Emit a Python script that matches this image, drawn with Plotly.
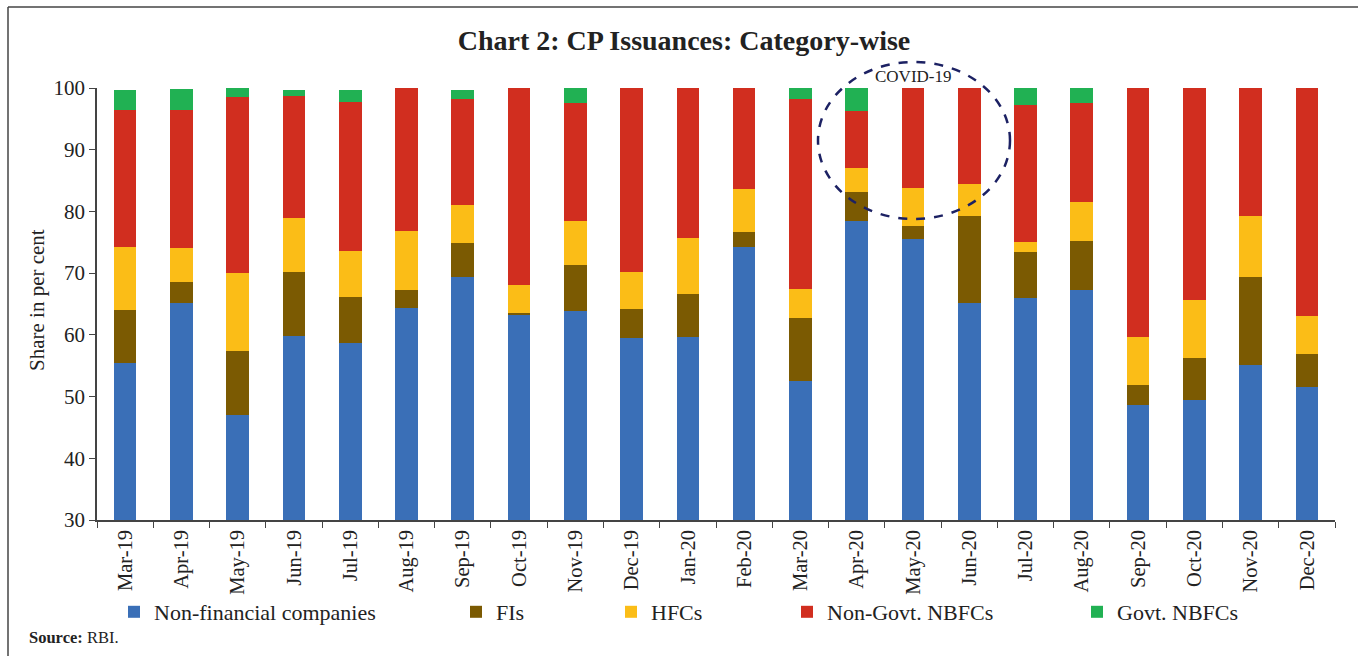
import plotly.graph_objects as go

months = ["Mar-19", "Apr-19", "May-19", "Jun-19", "Jul-19", "Aug-19", "Sep-19", "Oct-19",
          "Nov-19", "Dec-19", "Jan-20", "Feb-20", "Mar-20", "Apr-20", "May-20", "Jun-20",
          "Jul-20", "Aug-20", "Sep-20", "Oct-20", "Nov-20", "Dec-20"]

non_financial = [55.5, 65.2, 47.0, 59.8, 58.7, 64.4, 69.3, 63.2, 63.9, 59.5, 59.7, 74.2,
                 52.5, 78.5, 75.5, 65.1, 66.0, 67.2, 48.7, 49.4, 55.1, 51.5]
fis = [8.6, 3.3, 10.4, 10.4, 7.5, 2.9, 5.6, 0.4, 7.5, 4.7, 7.0, 2.5,
       10.2, 4.7, 2.2, 14.2, 7.4, 8.0, 3.1, 6.8, 14.3, 5.4]
hfcs = [10.2, 5.5, 12.6, 8.7, 7.4, 9.5, 6.2, 4.5, 7.1, 6.0, 9.0, 7.0,
        4.7, 3.8, 6.1, 5.2, 1.6, 6.4, 7.9, 9.4, 9.9, 6.2]
non_govt_nbfcs = [22.2, 22.5, 28.5, 19.8, 24.1, 23.2, 17.1, 31.9, 19.1, 29.8, 24.3, 16.3,
                  30.8, 9.3, 16.2, 15.5, 22.2, 15.9, 40.3, 34.4, 20.7, 36.9]
govt_nbfcs = [3.2, 3.4, 1.5, 0.9, 2.0, 0.0, 1.5, 0.0, 2.4, 0.0, 0.0, 0.0,
              1.8, 3.7, 0.0, 0.0, 2.8, 2.5, 0.0, 0.0, 0.0, 0.0]

series_names = ["Non-financial companies", "FIs", "HFCs", "Non-Govt. NBFCs", "Govt. NBFCs"]
series_values = [non_financial, fis, hfcs, non_govt_nbfcs, govt_nbfcs]
colors = ["#3A6FB7", "#7B5A02", "#FBBD17", "#D12E1F", "#21B153"]

FONT = "Liberation Serif"
W, H = 1358, 656
L, R, T, B = 97, 23, 88, 136
PW = W - L - R
PH = H - T - B


def px_x(p):
    return (p - L) / PW


def px_y(p):
    return (H - B - p) / PH


legend_ids = ["legend", "legend2", "legend3", "legend4", "legend5"]
text_starts = [155, 497, 652, 828, 1118]

fig = go.Figure()
for name, vals, col, lid in zip(series_names, series_values, colors, legend_ids):
    fig.add_trace(go.Bar(
        x=months, y=vals, name=name, marker=dict(color=col, line=dict(width=0)),
        legend=lid,
    ))

legend_layouts = {}
for lid, ts in zip(legend_ids, text_starts):
    legend_layouts[lid] = dict(
        x=px_x(ts - 41), y=px_y(612), xanchor="left", yanchor="middle",
        orientation="h", bgcolor="rgba(0,0,0,0)", borderwidth=0,
        font=dict(family=FONT, size=22, color="#222222"),
    )

fig.update_layout(
    width=W, height=H,
    margin=dict(l=L, r=R, t=T, b=B),
    paper_bgcolor="white", plot_bgcolor="white",
    barmode="stack", bargap=0.597,
    showlegend=True,
    title=dict(text="<b>Chart 2: CP Issuances: Category-wise</b>",
               x=684 / W, xref="container", xanchor="center",
               y=1 - 40 / H, yref="container", yanchor="middle",
               font=dict(family=FONT, size=28, color="#222222")),
    xaxis=dict(type="category", tickangle=-90, ticks="outside", ticklen=6,
               tickson="boundaries", tickcolor="#444444", tickwidth=1.3,
               showline=True, linecolor="#444444", linewidth=1.5,
               showgrid=False, tickfont=dict(family=FONT, size=20.5, color="#222222")),
    yaxis=dict(range=[30, 100], tickvals=[30, 40, 50, 60, 70, 80, 90, 100],
               ticks="outside", ticklen=6, tickcolor="#444444", tickwidth=1.3,
               showline=True, linecolor="#444444", linewidth=1.5,
               showgrid=False, zeroline=False,
               tickfont=dict(family=FONT, size=21, color="#222222")),
    **legend_layouts,
)

# Y-axis title
fig.add_annotation(text="Share in per cent", xref="paper", yref="paper",
                   x=px_x(37), y=px_y(300), textangle=-90, showarrow=False,
                   xanchor="center", yanchor="middle",
                   font=dict(family=FONT, size=21, color="#222222"))

# COVID-19 ellipse and label
fig.add_shape(type="circle", xref="paper", yref="paper",
              x0=px_x(818), x1=px_x(1010), y0=px_y(219), y1=px_y(62),
              line=dict(color="#1C2163", width=2.5, dash="dash"))
fig.add_annotation(text="COVID-19", xref="paper", yref="paper",
                   x=px_x(913), y=px_y(76), showarrow=False,
                   xanchor="center", yanchor="middle",
                   font=dict(family=FONT, size=17, color="#222222"))

# Source note
fig.add_annotation(text="<b>Source:</b> RBI.", xref="paper", yref="paper",
                   x=px_x(27), y=px_y(637), showarrow=False,
                   xanchor="left", yanchor="middle",
                   font=dict(family=FONT, size=16.5, color="#222222"))

# Frame lines (top and left)
fig.add_shape(type="line", xref="paper", yref="paper",
              x0=px_x(8), x1=px_x(1358), y0=px_y(7), y1=px_y(7),
              line=dict(color="#444444", width=1.5))
fig.add_shape(type="line", xref="paper", yref="paper",
              x0=px_x(8), x1=px_x(8), y0=px_y(7), y1=px_y(656),
              line=dict(color="#444444", width=1.5))

fig.write_html("out.html",
               config={"displayModeBar": False},
               post_script="document.body.style.margin='0';document.body.style.overflow='hidden';")
